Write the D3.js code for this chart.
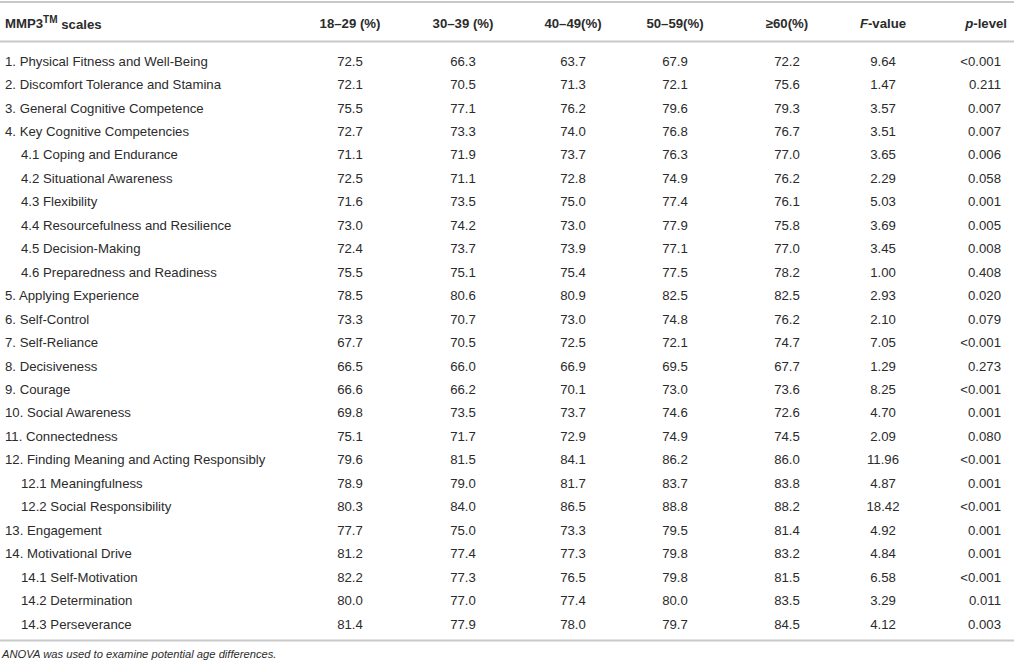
<!DOCTYPE html>
<html>
<head>
<meta charset="utf-8">
<script src="https://cdn.jsdelivr.net/npm/d3@7"></script>
<style>
  body { margin: 0; background: #fff; }
  svg text { font-family: "Liberation Sans", Arial, Helvetica, sans-serif; fill: #2b2b2b; }
</style>
</head>
<body>
<svg id="tbl" width="1017" height="665"></svg>
<script>
// row labels (indented ones are sub-scales)
let scales = [
  "1. Physical Fitness and Well-Being",
  "2. Discomfort Tolerance and Stamina",
  "3. General Cognitive Competence",
  "4. Key Cognitive Competencies",
  "4.1 Coping and Endurance",
  "4.2 Situational Awareness",
  "4.3 Flexibility",
  "4.4 Resourcefulness and Resilience",
  "4.5 Decision-Making",
  "4.6 Preparedness and Readiness",
  "5. Applying Experience",
  "6. Self-Control",
  "7. Self-Reliance",
  "8. Decisiveness",
  "9. Courage",
  "10. Social Awareness",
  "11. Connectedness",
  "12. Finding Meaning and Acting Responsibly",
  "12.1 Meaningfulness",
  "12.2 Social Responsibility",
  "13. Engagement",
  "14. Motivational Drive",
  "14.1 Self-Motivation",
  "14.2 Determination",
  "14.3 Perseverance"
];

let age1829 = [72.5,72.1,75.5,72.7,71.1,72.5,71.6,73.0,72.4,75.5,78.5,73.3,67.7,66.5,66.6,69.8,75.1,79.6,78.9,80.3,77.7,81.2,82.2,80.0,81.4];
let age3039 = [66.3,70.5,77.1,73.3,71.9,71.1,73.5,74.2,73.7,75.1,80.6,70.7,70.5,66.0,66.2,73.5,71.7,81.5,79.0,84.0,75.0,77.4,77.3,77.0,77.9];
let age4049 = [63.7,71.3,76.2,74.0,73.7,72.8,75.0,73.0,73.9,75.4,80.9,73.0,72.5,66.9,70.1,73.7,72.9,84.1,81.7,86.5,73.3,77.3,76.5,77.4,78.0];
let age5059 = [67.9,72.1,79.6,76.8,76.3,74.9,77.4,77.9,77.1,77.5,82.5,74.8,72.1,69.5,73.0,74.6,74.9,86.2,83.7,88.8,79.5,79.8,79.8,80.0,79.7];
let age60 = [72.2,75.6,79.3,76.7,77.0,76.2,76.1,75.8,77.0,78.2,82.5,76.2,74.7,67.7,73.6,72.6,74.5,86.0,83.8,88.2,81.4,83.2,81.5,83.5,84.5];
let fValue = ["9.64","1.47","3.57","3.51","3.65","2.29","5.03","3.69","3.45","1.00","2.93","2.10","7.05","1.29","8.25","4.70","2.09","11.96","4.87","18.42","4.92","4.84","6.58","3.29","4.12"];
let pLevel = ["<0.001","0.211","0.007","0.007","0.006","0.058","0.001","0.005","0.008","0.408","0.020","0.079","<0.001","0.273","<0.001","0.001","0.080","<0.001","0.001","<0.001","0.001","0.001","<0.001","0.011","0.003"];

let columns = ["age1829","age3039","age4049","age5059","age60","fValue","pLevel"];
let headers = ["18–29 (%)","30–39 (%)","40–49(%)","50–59(%)","≥60(%)","F-value","p-level"];

let colData = {
  age1829: age1829.map(v => v.toFixed(1)),
  age3039: age3039.map(v => v.toFixed(1)),
  age4049: age4049.map(v => v.toFixed(1)),
  age5059: age5059.map(v => v.toFixed(1)),
  age60: age60.map(v => v.toFixed(1)),
  fValue: fValue,
  pLevel: pLevel
};

const svg = d3.select("#tbl");
const fs = 13.2;

// column centres (p-level is right aligned)
const x = d3.scaleOrdinal()
  .domain(columns)
  .range([350, 463, 573, 675, 787, 883, 1001]);

// rows
const y = d3.scalePoint()
  .domain(d3.range(scales.length))
  .range([61, 624]);

// rules
const rule = (yy) => svg.append("line")
  .attr("x1", 0).attr("x2", 1014)
  .attr("y1", yy).attr("y2", yy)
  .attr("stroke", "#c8c8c8").attr("stroke-width", 2);
rule(2);
rule(41.5);
rule(640.5);

// header
let hg = svg.append("g").attr("font-weight", "bold").attr("font-size", fs);
let mm = hg.append("text").attr("x", 5).attr("y", 23).attr("dy", "0.35em");
mm.append("tspan").text("MMP3");
mm.append("tspan").attr("font-size", 10).attr("dy", "-0.5em").text("TM");
mm.append("tspan").attr("dy", "0.5em").text(" scales");

hg.selectAll("text.col")
  .data(columns)
  .join("text")
    .classed("col", true)
    .attr("x", d => d == "pLevel" ? 1007 : x(d))
    .attr("y", 23)
    .attr("dy", "0.35em")
    .attr("text-anchor", d => d == "pLevel" ? "end" : "middle")
    .each(function (d, i) {
      let t = d3.select(this);
      let h = headers[i];
      if (i >= 5) {
        t.append("tspan").attr("font-style", "italic").text(h[0]);
        t.append("tspan").text(h.slice(1));
      } else {
        t.text(h);
      }
    });

// row labels
svg.append("g").attr("font-size", fs)
  .selectAll("text")
  .data(scales)
  .join("text")
    .attr("x", d => /^\d+\.\d/.test(d) ? 21 : 5)
    .attr("y", (d, i) => y(i))
    .attr("dy", "0.35em")
    .text(d => d);

// cells
columns.forEach(c => {
  svg.append("g").attr("font-size", fs)
    .selectAll("text")
    .data(colData[c])
    .join("text")
      .attr("x", x(c))
      .attr("y", (d, i) => y(i))
      .attr("dy", "0.35em")
      .attr("text-anchor", c == "pLevel" ? "end" : "middle")
      .text(d => d);
});

// footnote
svg.append("text")
  .attr("x", 2).attr("y", 654).attr("dy", "0.35em")
  .attr("font-size", 11.2).attr("font-style", "italic")
  .text("ANOVA was used to examine potential age differences.");
</script>
</body>
</html>
